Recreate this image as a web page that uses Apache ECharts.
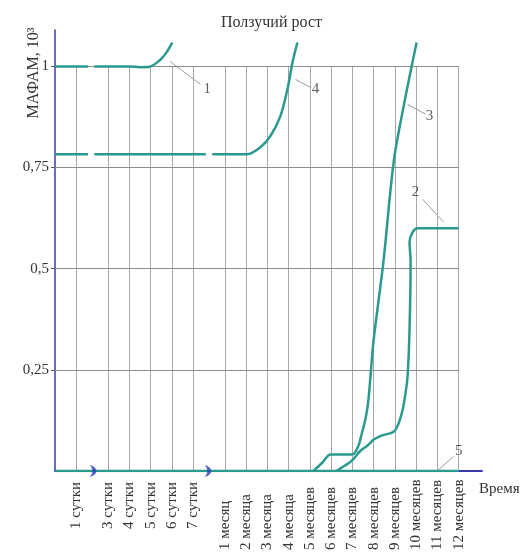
<!DOCTYPE html>
<html>
<head>
<meta charset="utf-8">
<script src="https://cdn.jsdelivr.net/npm/echarts@6/dist/echarts.min.js"></script>
<style>
  html, body { margin: 0; padding: 0; background: #fff; }
  #chart { width: 523px; height: 553px; }
</style>
</head>
<body>
<div id="chart"></div>
<script>
// x positions of the time ticks (axis units, 2 сутки and the gap before 1 месяц are cut out)
const xTickPos = [1, 2.5, 3.5, 4.5, 5.5, 6.5, 8, 9, 10, 11, 12, 13, 14, 15, 16, 17, 18, 19];
const xTickLabels = ['1 сутки', '3 сутки', '4 сутки', '5 сутки', '6 сутки', '7 сутки',
  '1 месяц', '2 месяца', '3 месяца', '4 месяца', '5 месяцев', '6 месяцев', '7 месяцев',
  '8 месяцев', '9 месяцев', '10 месяцев', '11 месяцев', '12 месяцев'];
const yTicks = [0.25, 0.5, 0.75, 1];
const yTickLabels = ['0,25', '0,5', '0,75', '1'];
const breakPos = [1.79, 7.2];

// curves, [time, МАФАМ]; '-' breaks the line
const curve1 = [[0, 1], [1.55, 1], [1.7, '-'], [1.85, 1], [3.5, 1], [4.0, 0.998], [4.45, 0.999],
  [4.95, 1.016], [5.24, 1.034], [5.52, 1.059]];
const curve4 = [[0, 0.783], [1.55, 0.783], [1.7, '-'], [1.85, 0.783], [7.1, 0.783], [7.25, '-'],
  [7.4, 0.783], [9.06, 0.783], [9.67, 0.8], [10.14, 0.828], [10.61, 0.877], [10.94, 0.943],
  [11.18, 1.01], [11.41, 1.059]];
const curve3 = [[12.16, 0], [12.59, 0.021], [12.97, 0.041], [14.0, 0.041], [14.29, 0.063],
  [14.38, 0.08], [14.62, 0.13], [14.76, 0.179], [14.99, 0.319], [15.46, 0.517],
  [15.94, 0.763], [16.41, 0.901], [17.02, 1.059]];
const curve2 = [[13.25, 0], [13.67, 0.014], [14.0, 0.027], [14.38, 0.05], [14.71, 0.063],
  [14.99, 0.077], [15.34, 0.087], [15.94, 0.097], [16.17, 0.117], [16.36, 0.15],
  [16.5, 0.192], [16.6, 0.236], [16.69, 0.352], [16.74, 0.517], [16.69, 0.566],
  [16.83, 0.59], [17.07, 0.6], [19, 0.6]];
const curve5 = [[0, 0], [19, 0]];

// curve numbers: leader start, leader end, text position
const curveNames = ['1', '4', '3', '2', '5'];
const leaderFrom = [[5.42, 1.012], [11.32, 0.968], [16.6, 0.906], [17.3, 0.672], [18.01, 0.001]];
const leaderTo = [[6.84, 0.956], [12.02, 0.948], [17.44, 0.882], [18.29, 0.615], [18.76, 0.036]];
const nameAt = [[7.17, 0.943], [12.26, 0.943], [17.63, 0.877], [16.97, 0.689], [19.0, 0.05]];

const teal = '#2a9a90';
const blue = '#3a3aae';
const serif = 'Liberation Serif';

const chart = echarts.init(document.getElementById('chart'));

// grid box: verticals up to 1, horizontals up to the last tick
const vLines = xTickPos.map(x => [{ coord: [x, 0] }, { coord: [x, 1] }]);
const hLines = yTicks.map(y => [{ coord: [0, y] }, { coord: [19, y] }]);

const curveSeries = [curve1, curve4, curve3, curve2, curve5].map((d, i) => ({
  type: 'line',
  data: d,
  showSymbol: false,
  smooth: i === 4 ? false : 0.3,
  connectNulls: false,
  lineStyle: { color: teal, width: 2.5 },
  z: 5,
  silent: true
}));

const leaderSeries = leaderFrom.map((p, i) => ({
  type: 'line',
  data: [p, leaderTo[i]],
  showSymbol: false,
  lineStyle: { color: '#9a9a9a', width: 1 },
  z: 4,
  silent: true
}));

chart.setOption({
  animation: false,
  title: {
    text: 'Ползучий рост',
    left: 216,
    top: 10,
    textStyle: { fontFamily: serif, fontSize: 16, fontWeight: 'normal', color: '#333' }
  },
  grid: { left: 55, right: 41, top: 30, bottom: 80.5, containLabel: false },
  xAxis: {
    type: 'value',
    min: 0,
    max: 20.1,
    name: 'Время',
    nameLocation: 'end',
    nameGap: 0,
    nameTextStyle: {
      fontFamily: serif, fontSize: 15, color: '#333',
      align: 'left', verticalAlign: 'top', padding: [11, 0, 0, -3]
    },
    axisLine: { lineStyle: { color: blue, width: 2 } },
    axisTick: { show: false },
    splitLine: { show: false },
    axisLabel: {
      customValues: xTickPos,
      rotate: 90,
      margin: 9,
      fontFamily: serif,
      fontSize: 15,
      color: '#333',
      formatter: v => {
        const i = xTickPos.indexOf(v);
        if (i < 0) return '';
        return (i < 6 ? '{d|' : '{m|') + xTickLabels[i] + '}';
      },
      rich: {
        d: { width: 49, align: 'left', fontFamily: serif, fontSize: 15, color: '#333' },
        m: { width: 70, align: 'left', fontFamily: serif, fontSize: 15, color: '#333' }
      }
    }
  },
  yAxis: {
    type: 'value',
    min: 0,
    max: 1.09,
    axisLine: { show: true, lineStyle: { color: blue, width: 1.5 } },
    axisTick: { show: true, customValues: yTicks, length: 4, lineStyle: { color: '#555' } },
    splitLine: { show: false },
    axisLabel: {
      customValues: yTicks,
      margin: 6,
      fontFamily: serif,
      fontSize: 15,
      color: '#333',
      formatter: v => yTickLabels[yTicks.indexOf(v)] || ''
    }
  },
  graphic: [{
    type: 'text',
    x: 34,
    y: 73,
    rotation: Math.PI / 2,
    style: {
      text: 'МАФАМ, 10³',
      font: '16px "Liberation Serif"',
      fill: '#333',
      align: 'center',
      verticalAlign: 'middle'
    }
  }],
  series: [
    {
      type: 'line',
      data: [],
      silent: true,
      markLine: {
        silent: true,
        symbol: 'none',
        label: { show: false },
        lineStyle: { color: '#a8a8a8', width: 1, type: 'solid' },
        data: vLines
      },
      z: 1
    },
    {
      type: 'line',
      data: [],
      silent: true,
      markLine: {
        silent: true,
        symbol: 'none',
        label: { show: false },
        lineStyle: { color: '#8c8c8c', width: 1, type: 'solid' },
        data: hLines
      },
      z: 1
    },
    ...curveSeries,
    ...leaderSeries,
    {
      type: 'scatter',
      data: nameAt.map((p, i) => ({ value: p, name: curveNames[i] })),
      symbolSize: 0,
      silent: true,
      label: {
        show: true,
        position: 'inside',
        formatter: p => p.name,
        fontFamily: serif,
        fontSize: 15,
        color: '#333'
      },
      z: 6
    },
    {
      type: 'scatter',
      data: breakPos.map(x => [x, 0]),
      symbol: 'path://M0,0 C10,2 10,10 0,12 C4,9 4,3 0,0 Z',
      symbolSize: [7, 12],
      itemStyle: { color: '#2b40b4' },
      silent: true,
      z: 7
    }
  ]
});
</script>
</body>
</html>
